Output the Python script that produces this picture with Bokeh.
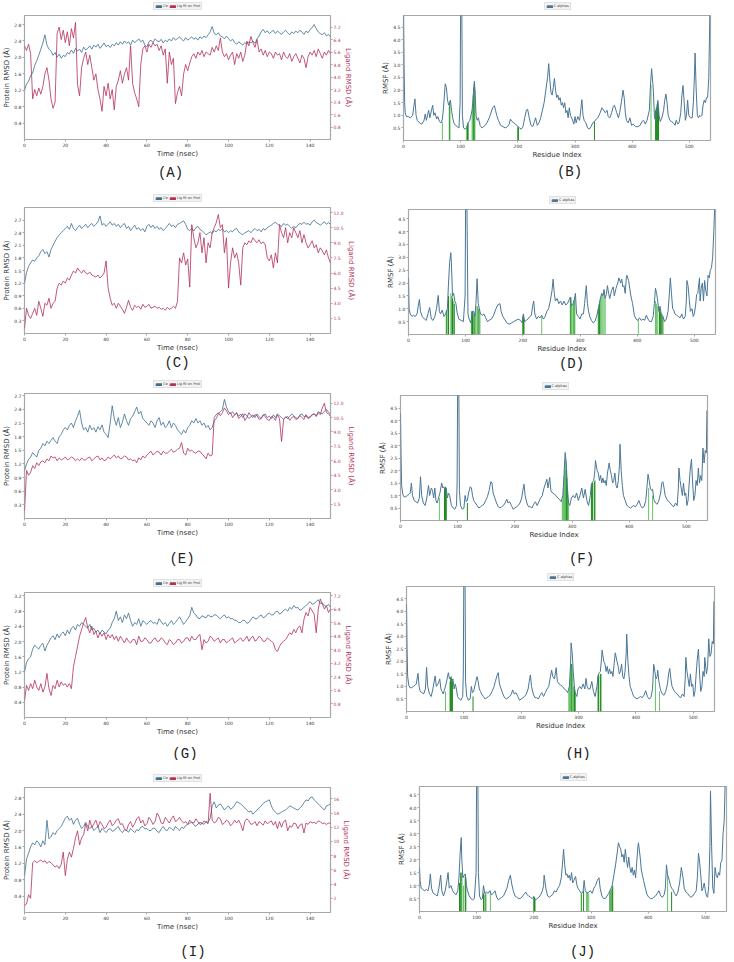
from bokeh.plotting import figure
from bokeh.models import Range1d, LinearAxis, Legend, LegendItem, Label, FixedTicker, PrintfTickFormatter
from bokeh.layouts import column, row
from bokeh.embed import file_html
from bokeh.resources import INLINE

# ---------------- data ----------------
time_ns = list(range(151))
rmsd_xticks = [0, 20, 40, 60, 80, 100, 120, 140]
rmsf_xticks = [0, 100, 200, 300, 400, 500]
rmsf_yticks = [0.5, 1.0, 1.5, 2.0, 2.5, 3.0, 3.5, 4.0, 4.5]

# Panel A
a_ca = [1.20, 1.35, 1.42, 1.55, 1.62, 1.80, 1.92, 2.05, 2.20, 2.35, 2.55,
        2.30, 2.20, 2.15, 2.05, 2.12, 2.00, 2.08, 1.98, 2.05, 2.02,
        2.12, 2.08, 2.18, 2.10, 2.22, 2.15, 2.20, 2.12, 2.25, 2.18,
        2.22, 2.28, 2.20, 2.30, 2.25, 2.32, 2.22, 2.28, 2.35, 2.26,
        2.30, 2.24, 2.32, 2.28, 2.36, 2.30, 2.38, 2.32, 2.40, 2.34,
        2.38, 2.30, 2.42, 2.36, 2.40, 2.45, 2.38, 2.42, 2.30, 2.25,
        2.38, 2.42, 2.36, 2.45, 2.40, 2.38, 2.44, 2.35, 2.42, 2.38,
        2.45, 2.40, 2.48, 2.42, 2.46, 2.50, 2.44, 2.40, 2.48, 2.42,
        2.46, 2.50, 2.44, 2.48, 2.42, 2.50, 2.46, 2.52, 2.48, 2.55,
        2.62, 2.75, 2.58, 2.55, 2.60, 2.52, 2.50, 2.45, 2.52, 2.46,
        2.40, 2.44, 2.36, 2.32, 2.38, 2.34, 2.30, 2.36, 2.32, 2.38,
        2.35, 2.40, 2.34, 2.45, 2.52, 2.62, 2.68, 2.60, 2.65, 2.58,
        2.62, 2.66, 2.58, 2.64, 2.60, 2.56, 2.62, 2.66, 2.60, 2.55,
        2.62, 2.58, 2.64, 2.60, 2.66, 2.62, 2.56, 2.64, 2.60, 2.68,
        2.72, 2.80, 2.70, 2.62, 2.58, 2.55, 2.60, 2.52, 2.56, 2.50]
a_lig = [6.0, 5.7, 6.1, 5.5, 2.6, 3.2, 2.8, 3.3, 2.9, 3.4, 4.2,
         4.6, 3.8, 2.6, 2.0, 2.4, 6.8, 7.2, 6.4, 7.0, 6.2,
         6.9, 6.0, 7.1, 6.5, 7.5, 3.5, 2.8, 4.6, 5.2, 5.6,
         4.8, 5.4, 4.6, 3.8, 4.2, 3.2, 2.6, 1.8, 3.4, 2.8,
         3.6, 2.6, 3.2, 1.9, 3.4, 3.8, 4.4, 3.6, 4.2, 4.6,
         3.8, 6.0, 3.6, 3.0, 2.6, 2.1, 4.8, 5.8, 6.0, 5.6,
         6.1, 5.9, 6.2, 6.0, 6.1, 5.7, 6.0, 5.4, 5.8, 3.6,
         5.6, 4.8, 5.2, 2.3, 3.0, 3.4, 2.8, 4.2, 4.8, 4.4,
         4.9, 5.3, 5.5, 5.2, 5.6, 5.4, 5.7, 5.3, 5.6, 5.5,
         5.4, 5.9, 5.6, 6.0, 5.7, 6.5, 5.6, 5.3, 5.5, 5.1,
         5.4, 5.6, 4.8, 5.5, 5.2, 5.6, 5.0, 5.4, 6.3, 6.0,
         6.6, 6.2, 5.9, 6.4, 5.6, 5.8, 5.4, 5.7, 5.3, 5.6,
         5.5, 5.2, 5.6, 5.4, 5.5, 5.1, 5.6, 5.3, 5.2, 5.5,
         5.0, 5.3, 5.5, 5.2, 4.9, 5.4, 5.2, 4.6, 5.3, 5.6,
         5.4, 5.7, 5.3, 5.8, 5.5, 5.2, 5.6, 5.4, 5.7, 5.5]
a_left_ticks = [0.4, 0.8, 1.2, 1.6, 2.0, 2.4, 2.8]
a_right_ticks = [0.8, 1.6, 2.4, 3.2, 4.0, 4.8, 5.6, 6.4, 7.2]

# Panel C
c_ca = [1.20, 1.45, 1.60, 1.68, 1.75, 1.72, 1.80, 1.85, 1.95, 2.00, 1.90,
        1.95, 1.82, 2.00, 2.10, 2.20, 2.28, 2.35, 2.40, 2.45, 2.50,
        2.55, 2.48, 2.62, 2.50, 2.45, 2.52, 2.58, 2.50, 2.55, 2.60,
        2.52, 2.58, 2.62, 2.55, 2.60, 2.66, 2.80, 2.58, 2.62, 2.55,
        2.60, 2.66, 2.58, 2.62, 2.55, 2.60, 2.52, 2.58, 2.62, 2.50,
        2.55, 2.45, 2.52, 2.58, 2.48, 2.52, 2.45, 2.50, 2.42, 2.55,
        2.60, 2.52, 2.58, 2.50, 2.55, 2.48, 2.52, 2.45, 2.50, 2.56,
        2.62, 2.55, 2.58, 2.52, 2.60, 2.62, 2.65, 2.68, 2.60, 2.48,
        2.45, 2.50, 2.44, 2.52, 2.55, 2.48, 2.45, 2.40, 2.35, 2.38,
        2.42, 2.38, 2.45, 2.42, 2.48, 2.45, 2.50, 2.42, 2.45, 2.40,
        2.45, 2.42, 2.48, 2.50, 2.42, 2.38, 2.35, 2.40, 2.42, 2.45,
        2.40, 2.46, 2.50, 2.45, 2.48, 2.42, 2.50, 2.46, 2.52, 2.55,
        2.58, 2.62, 2.65, 2.60, 2.58, 2.55, 2.62, 2.58, 2.60, 2.55,
        2.50, 2.55, 2.52, 2.58, 2.62, 2.60, 2.65, 2.60, 2.62, 2.58,
        2.66, 2.70, 2.64, 2.62, 2.58, 2.62, 2.66, 2.60, 2.64, 2.60]
c_lig = [0.5, 2.5, 1.8, 1.5, 2.0, 2.5, 1.8, 3.2, 2.5, 1.7, 3.0,
         2.8, 3.5, 2.5, 3.0, 3.2, 4.5, 5.0, 4.8, 5.2, 5.0,
         5.5, 5.3, 5.8, 6.2, 6.0, 6.5, 6.2, 6.0, 6.3, 6.0,
         5.9, 6.1, 5.8, 5.7, 5.6, 5.8, 5.5, 5.7, 6.0, 7.2,
         4.5, 3.5, 2.8, 3.0, 2.5, 3.0, 2.7, 2.4, 2.0, 2.6,
         3.3, 2.6, 2.3, 2.8, 2.6, 2.7, 2.4, 2.9, 2.6, 2.7,
         2.9, 2.5, 2.6, 2.7, 2.5, 2.6, 2.4, 2.5, 2.3, 2.6,
         2.4, 2.5, 2.7, 2.5, 3.2, 7.5, 7.0, 8.0, 6.8, 7.4,
         4.6, 10.8, 9.5, 8.5, 9.0, 10.0, 8.0, 9.5, 7.0, 9.0,
         8.5, 10.0, 10.5, 11.0, 11.8, 10.5, 10.8, 8.0, 9.5, 4.5,
         7.0, 8.5, 7.5, 8.0, 7.0, 4.8, 8.5, 9.0, 8.8, 9.2,
         9.0, 9.5, 9.2, 9.0, 9.3, 8.9, 9.1, 8.8, 7.5, 7.2,
         7.8, 6.5, 8.0, 7.0, 10.8, 10.0, 9.5, 10.5, 9.0, 10.0,
         9.5, 10.5, 10.0, 9.5, 10.2, 9.0, 9.8, 9.0, 8.5, 8.8,
         9.2, 8.5, 8.8, 8.0, 8.5, 8.2, 7.8, 8.3, 7.5, 7.0]
c_left_ticks = [0.3, 0.6, 0.9, 1.2, 1.5, 1.8, 2.1, 2.4, 2.7]
c_right_ticks = [1.5, 3.0, 4.5, 6.0, 7.5, 9.0, 10.5, 12.0]

# Panel E
e_ca = [1.05, 1.20, 1.30, 1.35, 1.45, 1.40, 1.35, 1.50, 1.55, 1.65, 1.60,
        1.70, 1.65, 1.72, 1.78, 1.70, 1.65, 1.80, 1.85, 1.95, 2.00,
        1.95, 2.05, 2.10, 2.00, 2.15, 2.25, 2.38, 2.10, 1.95, 2.00,
        1.90, 2.05, 1.95, 2.00, 1.90, 2.02, 1.95, 2.06, 1.90, 1.85,
        1.78, 2.10, 2.48, 2.20, 2.05, 2.22, 2.00, 2.12, 2.30, 2.15,
        2.05, 2.20, 2.25, 2.35, 2.45, 2.30, 2.36, 2.20, 2.15, 2.10,
        2.05, 2.15, 2.10, 2.00, 2.15, 2.22, 2.05, 2.12, 2.00, 2.05,
        2.15, 2.00, 2.10, 2.05, 1.95, 1.90, 1.85, 1.95, 1.88, 2.00,
        2.05, 2.15, 2.10, 2.20, 2.10, 2.15, 2.05, 2.10, 2.00, 2.05,
        1.95, 2.00, 2.15, 2.20, 2.30, 2.35, 2.40, 2.62, 2.45, 2.35,
        2.30, 2.35, 2.28, 2.32, 2.25, 2.30, 2.22, 2.30, 2.26, 2.20,
        2.24, 2.28, 2.22, 2.30, 2.24, 2.20, 2.26, 2.30, 2.22, 2.25,
        2.20, 2.28, 2.22, 2.30, 2.26, 2.22, 2.18, 2.24, 2.20, 2.25,
        2.30, 2.26, 2.22, 2.20, 2.28, 2.30, 2.24, 2.26, 2.20, 2.22,
        2.28, 2.30, 2.26, 2.35, 2.32, 2.30, 2.36, 2.40, 2.34, 2.30]
e_lig = [0.8, 5.0, 4.5, 4.8, 5.5, 5.2, 5.8, 5.5, 5.9, 6.0, 5.8,
         6.2, 6.0, 6.5, 6.3, 6.4, 6.0, 6.3, 6.1, 6.2, 6.4,
         6.1, 6.2, 6.4, 6.3, 6.0, 6.2, 6.0, 6.3, 6.1, 6.1,
         6.3, 6.4, 6.0, 6.2, 6.4, 6.5, 6.1, 6.3, 6.0, 6.1,
         6.4, 6.2, 6.4, 6.6, 6.3, 6.5, 6.2, 6.3, 6.5, 6.4,
         6.1, 6.2, 6.0, 6.1, 5.8, 6.3, 6.1, 6.5, 6.3, 6.6,
         6.8, 7.0, 6.6, 6.8, 7.0, 6.9, 6.6, 7.0, 6.8, 6.8,
         7.0, 7.2, 6.9, 7.0, 7.2, 7.3, 7.9, 6.8, 6.6, 7.3,
         7.0, 7.1, 6.9, 6.8, 7.0, 7.0, 6.7, 6.5, 6.2, 6.8,
         6.5, 6.6, 10.5, 10.8, 11.0, 10.7, 11.0, 11.5, 11.2, 10.8,
         11.0, 10.5, 10.8, 11.0, 10.4, 10.6, 10.9, 10.2, 10.5, 11.0,
         10.7, 10.5, 10.8, 10.7, 10.3, 10.4, 10.8, 10.6, 10.3, 10.2,
         10.6, 10.5, 10.2, 10.8, 10.4, 8.0, 10.3, 10.5, 10.6, 10.2,
         10.5, 10.6, 10.3, 10.4, 10.7, 10.5, 10.3, 10.8, 10.5, 10.6,
         10.8, 10.9, 10.6, 11.0, 10.8, 11.5, 12.0, 11.0, 10.9, 10.6]
e_left_ticks = [0.3, 0.6, 0.9, 1.2, 1.5, 1.8, 2.1, 2.4, 2.7]
e_right_ticks = [1.5, 3.0, 4.5, 6.0, 7.5, 9.0, 10.5, 12.0]

# Panel G
g_ca = [1.20, 1.45, 1.55, 1.60, 1.80, 1.90, 1.85, 1.80, 1.90, 1.95, 1.75,
        1.90, 2.00, 2.10, 2.15, 2.05, 2.20, 2.10, 2.20, 2.25, 2.15,
        2.30, 2.20, 2.35, 2.40, 2.30, 2.45, 2.40, 2.50, 2.45, 2.40,
        2.35, 2.45, 2.30, 2.35, 2.25, 2.30, 2.20, 2.30, 2.25, 2.20,
        2.30, 2.35, 2.50, 2.60, 2.80, 2.55, 2.65, 2.50, 2.70, 2.60,
        2.75, 2.55, 2.40, 2.50, 2.45, 2.60, 2.40, 2.55, 2.50, 2.45,
        2.52, 2.55, 2.48, 2.50, 2.45, 2.60, 2.52, 2.45, 2.50, 2.40,
        2.48, 2.55, 2.45, 2.50, 2.58, 2.65, 2.55, 2.45, 2.52, 2.60,
        2.68, 2.90, 2.75, 2.70, 2.62, 2.60, 2.68, 2.65, 2.62, 2.70,
        2.66, 2.65, 2.70, 2.70, 2.64, 2.60, 2.66, 2.70, 2.62, 2.65,
        2.60, 2.60, 2.56, 2.55, 2.50, 2.50, 2.56, 2.55, 2.48, 2.50,
        2.58, 2.65, 2.60, 2.60, 2.66, 2.70, 2.62, 2.65, 2.72, 2.75,
        2.70, 2.70, 2.78, 2.80, 2.72, 2.75, 2.82, 2.85, 2.80, 2.90,
        2.85, 2.95, 2.88, 2.90, 2.82, 2.85, 2.90, 2.95, 3.00, 3.05,
        2.98, 3.00, 3.05, 3.10, 3.00, 3.02, 2.95, 2.92, 2.98, 2.90]
g_lig = [1.0, 1.9, 1.6, 2.0, 1.7, 2.2, 1.8, 1.6, 2.0, 1.5, 1.8,
         2.6, 1.7, 1.3, 1.9, 1.7, 2.2, 1.8, 2.1, 1.9, 2.0,
         1.8, 2.0, 1.7, 3.0, 3.6, 4.2, 4.8, 5.2, 5.6, 5.9,
         5.3, 5.0, 5.4, 4.9, 5.1, 4.7, 5.0, 4.8, 5.0, 4.6,
         4.9, 4.7, 4.9, 4.6, 4.8, 4.5, 4.8, 4.6, 4.4, 4.7,
         4.5, 4.4, 4.6, 4.6, 4.3, 4.8, 4.5, 4.5, 4.7, 4.6,
         4.4, 4.4, 4.6, 4.7, 4.5, 4.5, 4.7, 4.6, 4.4, 4.3,
         4.6, 4.5, 4.3, 4.4, 4.6, 4.6, 4.4, 4.5, 4.7, 4.7,
         4.5, 4.8, 4.6, 4.6, 4.8, 4.9, 4.0, 4.6, 4.4, 4.5,
         4.8, 4.7, 4.5, 4.6, 4.7, 4.4, 4.6, 4.6, 4.4, 4.5,
         4.6, 4.7, 4.4, 4.5, 4.6, 4.7, 4.5, 4.6, 4.8, 4.5,
         4.7, 4.8, 4.5, 4.6, 4.8, 4.7, 4.5, 4.5, 4.7, 4.6,
         4.5, 4.4, 4.0, 3.9, 4.2, 4.4, 4.5, 4.6, 4.8, 5.0,
         4.9, 5.2, 5.0, 5.3, 5.4, 5.0, 5.8, 6.2, 6.0, 6.5,
         6.3, 6.1, 5.0, 6.4, 7.0, 6.7, 6.4, 6.6, 6.2, 6.4]
g_left_ticks = [0.4, 0.8, 1.2, 1.6, 2.0, 2.4, 2.8, 3.2]
g_right_ticks = [0.8, 1.6, 2.4, 3.2, 4.0, 4.8, 5.6, 6.4, 7.2]

# Panel I
i_ca = [0.90, 1.30, 1.45, 1.60, 1.70, 1.65, 1.75, 1.70, 1.60, 1.75, 1.65,
        2.25, 1.80, 1.85, 1.95, 1.90, 2.00, 2.05, 2.10, 2.20, 2.30,
        2.35, 2.25, 2.30, 2.15, 2.25, 2.30, 2.15, 2.05, 2.10, 2.20,
        2.10, 2.05, 2.10, 2.00, 2.05, 2.10, 1.95, 2.05, 2.00, 1.95,
        2.02, 2.05, 1.98, 2.00, 2.06, 2.10, 2.00, 1.95, 2.02, 2.00,
        1.96, 2.05, 2.00, 1.95, 2.02, 2.00, 2.08, 2.10, 2.04, 2.05,
        2.00, 2.00, 2.06, 2.05, 1.98, 1.95, 2.04, 2.10, 2.02, 2.00,
        2.08, 2.05, 2.00, 2.10, 2.04, 2.00, 2.08, 2.05, 2.12, 2.15,
        2.18, 2.20, 2.14, 2.10, 2.16, 2.20, 2.18, 2.15, 2.22, 2.20,
        2.30, 2.60, 2.70, 2.55, 2.62, 2.65, 2.58, 2.50, 2.56, 2.60,
        2.52, 2.55, 2.62, 2.70, 2.68, 2.65, 2.60, 2.55, 2.50, 2.45,
        2.48, 2.40, 2.45, 2.50, 2.55, 2.60, 2.66, 2.70, 2.72, 2.75,
        2.60, 2.50, 2.45, 2.40, 2.42, 2.45, 2.48, 2.50, 2.55, 2.60,
        2.58, 2.55, 2.52, 2.50, 2.55, 2.60, 2.68, 2.75, 2.72, 2.80,
        2.82, 2.75, 2.70, 2.65, 2.60, 2.55, 2.50, 2.60, 2.62, 2.65]
i_lig = [1.0, 1.2, 2.5, 2.0, 7.0, 7.3, 7.0, 7.2, 7.4, 7.1, 7.3,
         6.9, 7.2, 7.0, 6.7, 6.4, 6.6, 6.2, 6.8, 8.5, 5.2,
         7.5, 8.5, 7.8, 9.0, 10.5, 11.5, 9.5, 10.5, 11.0, 12.5,
         11.5, 13.0, 12.0, 12.5, 13.0, 12.0, 12.8, 12.4, 11.8, 12.0,
         12.6, 13.0, 12.2, 12.5, 13.0, 13.2, 12.4, 12.5, 11.8, 11.5,
         12.4, 12.8, 12.0, 12.5, 13.2, 13.5, 12.6, 13.0, 12.2, 12.5,
         13.4, 13.0, 12.4, 12.8, 14.0, 13.5, 12.6, 12.5, 13.4, 13.0,
         12.6, 13.2, 13.6, 12.8, 13.0, 13.4, 12.9, 12.6, 12.8, 12.4,
         13.0, 12.7, 12.6, 13.2, 12.8, 12.4, 12.5, 12.9, 12.7, 12.5,
         16.8, 13.0, 12.6, 12.8, 13.4, 13.2, 12.4, 12.6, 13.0, 12.8,
         12.2, 12.5, 13.0, 12.6, 13.0, 12.4, 11.5, 12.8, 13.2, 12.9,
         12.4, 12.5, 12.8, 12.2, 12.8, 12.6, 12.3, 12.9, 12.5, 12.7,
         12.9, 12.3, 12.8, 11.8, 12.8, 12.0, 12.8, 13.0, 11.5, 12.2,
         12.0, 12.6, 12.5, 11.8, 12.3, 12.5, 11.2, 12.6, 12.4, 12.8,
         12.6, 12.7, 12.5, 12.9, 12.8, 12.5, 12.6, 12.4, 12.6, 12.5]
i_left_ticks = [0.4, 0.8, 1.2, 1.6, 2.0, 2.4, 2.8]
i_right_ticks = [2, 4, 6, 8, 10, 12, 14, 16]

# RMSF profiles: (residue index, RMSF)
b_profile = [(0,5.2),(1,3.0),(2,1.5),(3,1.1),(5,0.95),(8,0.95),(12,0.9),(16,1.0),(18,1.35),(20,1.65),(22,1.0),(24,0.8),(28,0.7),(32,0.65),(36,0.8),(38,1.05),(40,0.8),(44,1.2),(46,0.9),(51,1.4),(53,1.0),(55,1.1),(58,0.85),(60,0.95),(63,0.75),(66,0.7),(68,0.85),(70,1.3),(73,2.25),(75,2.1),(77,1.6),(79,1.4),(82,1.6),(84,1.2),(86,0.9),(88,0.7),(91,0.6),(94,0.55),(97,0.5),(99,1.5),(100,5.5),(102,5.5),(103,1.0),(105,0.5),(108,0.45),(111,0.5),(113,0.7),(116,0.8),(118,1.0),(120,1.2),(122,1.8),(124,2.35),(125,2.0),(127,1.0),(129,0.8),(131,0.9),(134,0.6),(137,0.5),(140,0.55),(143,0.6),(146,0.7),(150,0.9),(153,1.1),(156,1.3),(159,1.38),(161,1.2),(163,1.0),(166,0.8),(170,0.6),(174,0.55),(178,0.5),(182,0.55),(185,0.65),(187,0.85),(190,0.75),(193,0.7),(196,0.65),(200,0.55),(203,0.5),(206,0.45),(209,0.55),(212,0.9),(215,1.2),(217,1.25),(220,0.9),(223,0.6),(226,0.55),(229,0.75),(231,0.9),(234,0.6),(237,0.7),(240,0.9),(243,1.2),(246,1.5),(249,2.0),(252,2.5),(254,3.05),(256,2.4),(258,1.9),(260,1.8),(262,2.1),(264,2.46),(266,2.0),(268,1.7),(270,1.8),(272,1.6),(274,1.7),(276,1.4),(278,1.5),(280,1.3),(282,1.5),(284,1.1),(286,1.2),(288,0.9),(290,1.3),(292,1.0),(295,0.85),(298,0.65),(300,0.95),(302,0.7),(305,0.95),(308,0.8),(310,1.2),(312,1.62),(314,1.0),(316,0.8),(319,0.7),(322,0.5),(325,0.45),(328,0.55),(331,0.7),(334,0.75),(337,0.85),(340,0.9),(344,1.1),(347,1.3),(350,1.2),(353,1.1),(356,1.2),(358,0.95),(361,0.9),(364,1.1),(367,1.35),(369,1.4),(373,1.1),(376,0.9),(378,1.1),(381,1.5),(384,2.0),(386,1.7),(388,1.1),(390,0.8),(393,0.7),(396,0.9),(399,0.6),(402,0.65),(406,0.55),(410,0.55),(414,0.6),(417,0.75),(420,0.8),(423,0.65),(426,0.8),(430,1.2),(432,2.2),(434,2.85),(437,2.0),(439,0.9),(441,0.8),(443,1.3),(445,1.59),(447,1.0),(449,0.75),(452,0.9),(455,1.2),(457,1.6),(459,1.84),(461,1.5),(463,1.0),(466,0.8),(469,0.75),(472,0.7),(475,0.6),(477,0.8),(480,0.65),(482,0.7),(485,1.1),(487,1.8),(489,2.18),(491,1.5),(493,0.8),(495,1.0),(497,1.6),(499,1.0),(502,0.9),(505,0.9),(507,1.5),(509,2.6),(510,3.47),(512,2.0),(514,1.0),(516,0.9),(518,1.0),(520,0.95),(522,1.0),(524,1.4),(526,1.6),(528,1.5),(530,1.7),(532,1.7),(534,2.5),(536,5.2)]
b_contacts = [(68,0.72,0),(80,1.35,0),(81,1.5,1),(110,0.6,0),(112,0.68,1),(113,0.7,1),(120,1.2,0),(121,1.4,0),(122,1.8,0),(123,2.1,1),(124,2.3,1),(125,2.0,0),(200,0.55,1),(201,0.5,1),(334,0.75,1),(433,2.2,0),(441,1.2,1),(442,1.3,1),(443,1.3,1),(444,1.45,1),(445,1.5,1),(446,1.3,1)]

d_profile = [(0,2.2),(1,1.0),(3,0.8),(6,0.7),(9,0.75),(12,0.7),(15,0.8),(17,1.1),(19,1.36),(21,0.9),(24,0.7),(28,0.6),(31,0.55),(34,0.8),(37,1.05),(40,0.6),(43,0.55),(46,0.7),(49,1.0),(52,1.52),(54,0.9),(56,0.8),(59,0.95),(62,0.7),(65,0.8),(68,1.0),(70,2.0),(72,2.8),(74,3.18),(75,2.8),(77,1.5),(79,1.6),(81,1.3),(83,1.2),(85,0.85),(88,0.6),(92,0.55),(96,0.5),(99,1.5),(100,5.5),(102,5.5),(104,0.8),(106,0.6),(109,0.45),(112,0.9),(114,0.9),(116,0.7),(118,1.2),(120,2.17),(122,1.2),(124,1.0),(126,0.8),(129,0.75),(132,0.8),(135,0.65),(138,0.5),(141,0.55),(145,0.6),(149,0.75),(153,1.0),(156,1.15),(160,1.2),(162,0.9),(165,0.7),(168,0.6),(172,0.45),(176,0.4),(180,0.45),(184,0.5),(188,0.55),(192,0.6),(196,0.55),(199,0.45),(201,0.8),(203,0.5),(206,0.55),(209,0.6),(212,0.7),(215,0.75),(217,1.1),(219,1.3),(221,0.8),(224,0.6),(227,0.7),(230,0.65),(233,0.75),(236,0.6),(239,0.7),(242,0.9),(245,1.0),(248,1.3),(251,1.7),(253,2.15),(255,1.6),(257,1.3),(260,1.4),(263,1.2),(266,1.3),(269,1.15),(272,1.3),(275,1.15),(278,1.2),(281,1.35),(283,1.45),(285,1.1),(288,1.2),(290,1.35),(292,1.6),(294,0.8),(297,0.7),(300,0.6),(303,0.8),(306,0.8),(308,1.2),(311,1.9),(313,1.2),(315,0.9),(317,0.7),(320,0.55),(323,0.45),(326,0.5),(329,0.7),(332,1.0),(335,1.35),(338,1.6),(340,1.5),(342,1.75),(344,1.4),(346,1.55),(348,1.9),(350,1.6),(352,1.4),(355,1.7),(358,1.85),(360,1.5),(363,1.8),(366,2.0),(368,2.2),(371,2.0),(373,2.15),(375,1.85),(377,1.9),(379,1.6),(381,2.2),(382,2.3),(385,2.1),(387,1.8),(389,1.5),(392,1.2),(395,0.75),(398,0.6),(401,0.55),(404,0.65),(407,0.55),(410,0.6),(413,0.55),(416,0.75),(419,0.6),(422,0.5),(425,0.5),(428,0.7),(430,1.2),(432,1.8),(434,1.6),(436,1.3),(438,0.9),(440,1.1),(442,0.8),(445,0.7),(448,0.5),(451,0.6),(454,0.9),(456,1.5),(458,2.2),(460,1.6),(462,1.0),(464,0.95),(466,0.8),(469,0.75),(472,0.7),(475,0.65),(478,0.8),(481,0.6),(484,0.7),(486,1.3),(487,2.1),(489,1.9),(491,1.4),(493,0.9),(496,1.0),(498,0.7),(500,0.8),(502,1.1),(504,1.55),(506,1.6),(509,2.2),(510,1.3),(512,1.8),(514,2.0),(516,1.3),(518,2.1),(520,1.7),(522,1.5),(524,2.3),(526,2.2),(528,2.5),(530,2.6),(532,3.0),(534,4.0),(536,5.2)]
d_contacts = [(66,0.9,0),(67,0.95,1),(69,1.0,0),(70,1.5,1),(74,1.6,0),(76,1.5,1),(77,1.4,1),(79,1.3,0),(80,1.2,1),(110,0.9,0),(111,0.9,1),(112,0.9,1),(114,0.85,0),(115,0.75,1),(117,0.9,0),(120,1.1,1),(121,1.1,0),(123,1.0,1),(124,0.9,0),(125,0.8,0),(200,0.7,1),(201,0.8,1),(202,0.6,1),(233,0.7,0),(283,1.4,0),(284,1.45,1),(285,1.1,0),(286,1.1,0),(288,1.2,0),(289,1.3,0),(290,1.35,1),(291,1.45,0),(332,1.0,1),(334,1.2,1),(336,1.4,0),(338,1.55,0),(340,1.5,0),(342,1.7,0),(344,1.4,0),(402,0.6,0),(432,1.3,0),(434,1.2,0),(436,1.1,0),(439,1.0,1),(441,0.9,1),(443,0.8,1),(445,0.7,1)]

f_profile = [(0,4.3),(1,2.5),(2,1.4),(4,1.05),(6,0.95),(9,0.95),(12,1.0),(15,1.05),(17,1.1),(19,1.5),(21,1.0),(24,0.8),(27,0.75),(30,0.7),(33,0.9),(35,1.75),(37,1.0),(40,0.7),(43,0.6),(46,0.9),(49,1.4),(51,1.0),(54,1.3),(56,1.2),(58,0.9),(60,1.3),(62,0.8),(64,0.7),(66,0.85),(69,1.1),(72,1.5),(74,1.3),(76,1.35),(78,1.2),(80,1.3),(82,0.9),(84,1.1),(86,1.0),(89,0.6),(92,0.5),(95,0.45),(98,0.6),(99,1.5),(100,5.5),(102,5.5),(103,1.2),(105,0.6),(108,0.45),(111,0.5),(113,1.0),(115,0.75),(117,0.8),(119,1.1),(122,1.35),(124,1.3),(126,1.0),(128,0.8),(131,0.7),(134,0.6),(137,0.5),(140,0.55),(143,0.6),(146,0.65),(149,0.8),(152,0.95),(155,1.2),(158,1.55),(160,1.5),(162,1.1),(165,0.9),(168,0.7),(171,0.55),(174,0.5),(177,0.55),(180,0.6),(183,0.7),(186,0.85),(188,0.7),(191,0.75),(194,0.6),(197,0.45),(200,0.5),(203,0.55),(206,0.6),(209,0.7),(212,0.9),(214,1.2),(216,1.45),(218,1.0),(221,0.7),(224,0.55),(227,0.55),(230,0.5),(233,0.65),(236,0.75),(239,0.6),(242,0.75),(245,0.9),(248,1.0),(251,1.3),(254,1.5),(256,1.65),(258,1.3),(261,1.72),(263,1.2),(266,1.1),(269,1.05),(272,1.0),(275,0.9),(278,0.85),(281,0.75),(284,1.0),(286,1.8),(288,2.72),(290,2.3),(292,1.3),(294,0.7),(296,0.6),(299,0.9),(302,1.0),(305,0.9),(308,1.1),(311,0.8),(314,1.0),(317,1.3),(320,0.9),(323,1.25),(326,0.8),(329,0.6),(332,1.0),(334,1.45),(336,1.55),(338,1.6),(340,2.0),(341,2.4),(344,2.0),(346,1.9),(348,1.6),(350,1.8),(352,1.5),(354,1.7),(356,1.5),(358,1.6),(360,1.4),(362,1.9),(365,2.3),(367,2.0),(369,1.8),(371,1.5),(373,1.6),(375,1.9),(377,1.4),(379,1.3),(381,1.6),(383,2.2),(384,3.05),(386,2.0),(388,1.4),(390,1.0),(393,0.8),(396,0.6),(399,0.55),(402,0.5),(405,0.55),(408,0.6),(411,0.55),(414,0.65),(417,0.8),(420,0.6),(423,0.5),(426,0.55),(429,0.8),(431,1.3),(433,1.85),(435,1.6),(437,1.3),(439,1.2),(441,1.25),(443,0.85),(446,0.7),(449,0.65),(452,0.8),(455,1.1),(457,1.5),(459,1.55),(461,1.3),(463,1.0),(466,0.85),(469,0.75),(472,0.7),(475,0.6),(478,0.55),(481,0.7),(484,0.6),(486,1.3),(487,2.1),(489,1.6),(491,1.3),(493,1.0),(495,1.5),(497,1.0),(499,1.1),(501,0.6),(503,0.8),(505,1.5),(507,2.1),(509,2.45),(511,1.5),(513,0.8),(515,1.0),(517,1.6),(519,1.4),(521,2.1),(523,1.5),(525,1.8),(527,1.6),(529,2.9),(531,2.3),(533,2.8),(535,2.7),(536,4.4)]
f_contacts = [(68,0.9,0),(77,1.3,1),(78,1.25,1),(79,1.35,1),(80,1.2,1),(117,0.7,1),(283,0.8,0),(284,1.0,0),(285,1.3,0),(286,1.8,0),(287,2.2,0),(288,2.5,0),(289,2.4,0),(290,2.0,1),(291,1.7,1),(292,1.3,1),(293,0.9,0),(294,0.7,0),(334,1.45,1),(336,1.5,1),(339,1.55,1),(340,1.6,1),(434,1.3,0),(441,1.0,0)]

h_profile = [(0,4.3),(1,2.5),(2,1.4),(4,1.05),(6,0.95),(9,0.95),(12,1.0),(15,1.05),(17,1.1),(20,1.52),(22,1.0),(24,0.8),(27,0.75),(30,0.7),(33,0.9),(35,1.76),(37,1.0),(40,0.7),(43,0.6),(46,0.9),(50,1.42),(52,1.0),(55,1.1),(58,1.3),(60,0.9),(62,0.8),(64,0.7),(66,0.85),(69,1.1),(73,1.55),(75,1.3),(77,1.35),(79,1.2),(81,1.3),(83,0.9),(85,1.1),(87,0.9),(89,0.6),(92,0.5),(95,0.45),(98,0.6),(99,1.5),(100,5.5),(102,5.5),(103,1.2),(105,0.6),(108,0.45),(111,0.5),(113,1.0),(115,0.75),(117,0.8),(120,1.1),(123,1.39),(125,1.2),(127,0.9),(129,0.8),(131,0.7),(134,0.6),(137,0.5),(140,0.55),(143,0.6),(146,0.65),(149,0.8),(152,0.95),(155,1.2),(158,1.45),(160,1.55),(162,1.1),(165,0.9),(168,0.7),(171,0.55),(174,0.5),(177,0.55),(180,0.6),(183,0.7),(185,0.86),(188,0.7),(191,0.75),(194,0.6),(197,0.45),(200,0.5),(203,0.55),(206,0.6),(209,0.7),(212,0.9),(214,1.2),(216,1.46),(218,1.0),(221,0.7),(224,0.55),(227,0.55),(230,0.5),(233,0.65),(236,0.75),(239,0.6),(242,0.75),(245,0.9),(248,1.0),(251,1.4),(253,1.65),(255,1.4),(258,1.3),(261,1.75),(263,1.2),(266,1.1),(269,1.05),(272,1.0),(275,0.9),(278,0.85),(281,0.75),(284,1.0),(286,1.9),(287,2.74),(289,2.3),(291,1.5),(293,0.9),(295,0.7),(297,0.6),(299,0.9),(302,1.0),(305,0.9),(308,1.1),(311,0.9),(313,1.32),(315,1.0),(317,0.9),(320,0.9),(323,1.2),(326,0.8),(329,0.6),(332,1.0),(334,1.45),(336,1.55),(338,1.6),(340,2.1),(341,2.45),(344,2.0),(346,1.9),(348,1.6),(350,1.8),(352,1.5),(354,1.7),(356,1.5),(358,1.6),(360,1.4),(362,1.9),(364,2.34),(367,2.0),(369,1.8),(371,1.5),(373,1.6),(375,1.9),(377,1.4),(379,1.3),(381,1.6),(383,2.3),(384,3.09),(386,2.0),(388,1.4),(390,1.0),(393,0.8),(396,0.6),(399,0.55),(402,0.5),(405,0.55),(408,0.6),(411,0.55),(414,0.65),(417,0.83),(420,0.6),(423,0.5),(426,0.55),(429,0.9),(431,1.88),(433,1.6),(435,1.3),(437,1.4),(438,1.65),(440,1.2),(443,0.85),(446,0.7),(449,0.65),(452,0.8),(455,1.1),(457,1.5),(459,1.72),(461,1.3),(463,1.0),(466,0.85),(469,0.75),(472,0.7),(475,0.6),(478,0.55),(481,0.7),(484,0.6),(486,1.3),(487,2.16),(489,1.6),(491,1.3),(493,1.0),(495,1.5),(497,1.0),(499,1.1),(501,0.6),(503,0.8),(505,1.5),(507,2.1),(509,2.49),(511,1.5),(513,0.8),(515,1.0),(517,1.6),(519,1.4),(520,2.16),(523,1.5),(525,1.8),(527,2.9),(529,2.2),(531,2.3),(533,2.8),(535,2.7),(536,4.4)]
h_contacts = [(68,0.8,0),(76,1.2,1),(77,1.35,1),(78,1.4,1),(79,1.3,1),(80,1.2,1),(116,0.6,1),(283,0.8,0),(284,1.0,0),(285,1.3,0),(286,1.8,0),(287,1.9,0),(288,1.9,1),(289,1.8,0),(290,1.5,0),(292,1.0,1),(293,0.9,1),(294,0.7,1),(334,1.4,1),(335,1.45,1),(338,1.5,1),(339,1.5,1),(434,1.3,0),(441,0.8,0)]

j_profile = [(0,1.7),(1,1.2),(3,0.9),(6,0.85),(9,0.8),(12,0.85),(15,0.8),(17,1.0),(19,1.45),(21,0.9),(24,0.7),(28,0.65),(31,0.6),(34,0.9),(37,1.4),(39,0.8),(42,0.6),(45,0.8),(48,1.2),(50,1.5),(52,0.9),(55,1.0),(58,0.8),(61,0.7),(64,0.65),(67,0.8),(69,1.3),(71,2.2),(73,2.85),(74,2.0),(76,1.3),(78,1.4),(80,1.45),(82,1.0),(84,0.8),(87,0.6),(90,0.5),(93,0.45),(96,0.5),(99,1.5),(100,5.5),(102,5.5),(103,1.5),(105,0.6),(108,0.45),(110,0.5),(112,1.0),(114,0.7),(117,0.75),(120,0.7),(123,0.8),(126,0.65),(129,0.7),(132,0.8),(135,0.55),(138,0.45),(141,0.5),(144,0.55),(147,0.6),(150,0.75),(153,0.9),(156,1.2),(159,1.4),(161,1.1),(164,0.8),(167,0.6),(170,0.55),(173,0.5),(176,0.5),(179,0.55),(182,0.65),(186,0.75),(188,0.65),(191,0.6),(194,0.55),(197,0.5),(200,0.55),(203,0.45),(206,0.5),(209,0.55),(212,0.65),(215,0.8),(217,1.0),(218,1.4),(221,0.9),(224,0.6),(227,0.55),(230,0.6),(233,0.65),(236,0.8),(239,0.75),(242,0.9),(245,1.0),(248,1.3),(250,1.8),(252,2.4),(254,1.8),(256,1.4),(258,1.45),(260,1.3),(262,1.4),(264,1.2),(266,1.5),(268,1.1),(270,1.2),(273,1.35),(275,1.05),(277,0.9),(280,0.8),(283,0.7),(286,0.75),(288,1.2),(290,0.8),(293,0.7),(296,0.75),(299,0.8),(302,0.7),(305,0.9),(308,1.0),(311,1.2),(314,1.3),(316,0.9),(319,0.6),(322,0.5),(325,0.5),(328,0.6),(331,0.7),(334,0.85),(337,1.0),(340,1.4),(343,1.8),(346,2.3),(348,2.65),(350,2.5),(352,2.4),(354,2.1),(356,2.2),(358,1.9),(360,2.4),(362,2.0),(364,1.7),(366,2.1),(368,1.7),(370,1.5),(372,1.7),(374,1.4),(376,1.6),(378,1.3),(380,1.9),(382,2.5),(383,2.65),(386,2.1),(388,1.6),(390,1.4),(392,1.2),(395,0.9),(398,0.65),(401,0.55),(404,0.5),(407,0.5),(410,0.55),(413,0.6),(416,0.7),(419,0.8),(422,0.6),(425,0.55),(428,0.65),(430,0.9),(432,1.8),(434,1.4),(437,1.2),(439,1.0),(441,0.9),(443,0.85),(446,0.7),(449,0.6),(452,0.75),(455,1.1),(457,1.5),(458,1.7),(461,1.3),(463,0.9),(466,0.75),(469,0.7),(472,0.6),(475,0.55),(478,0.6),(481,0.7),(484,0.8),(486,1.3),(488,2.25),(490,1.9),(492,1.4),(494,0.8),(496,0.9),(498,1.1),(500,0.8),(502,0.6),(504,0.55),(506,1.0),(508,2.5),(509,4.65),(511,2.5),(513,0.9),(515,0.7),(517,1.7),(519,1.4),(521,1.3),(523,1.5),(525,1.4),(527,1.9),(529,1.95),(531,3.0),(533,3.5),(535,5.2)]
j_contacts = [(70,1.1,1),(72,1.5,1),(74,1.5,1),(77,1.0,0),(80,1.4,1),(81,1.3,1),(112,0.7,1),(114,0.65,0),(116,0.7,1),(124,0.8,0),(200,0.6,1),(201,0.55,1),(202,0.5,1),(283,0.7,1),(287,0.8,1),(292,0.7,0),(294,0.75,0),(296,0.7,0),(333,0.75,1),(335,0.85,1),(337,0.9,1),(338,1.0,1),(434,1.4,0),(441,0.75,1)]

# ---------------- style ----------------
BLUE = "#3f6f8f"
RED = "#b3325d"
RMSF_BLUE = "#4a7696"
GREEN_D = "#1a8a1a"
GREEN_L = "#66c266"
FRAME = "#a8a8a8"
TXT = "#333333"
FONT = "DejaVu Sans"
TICK_FS = "4.5px"
LAB_FS = "7px"
FIG_W = 367
BB = 20  # bottom border of each plot (axis only)


def style_axis(ax, color=TXT, fmt="%.1f"):
    ax.major_tick_out = 2
    ax.major_tick_in = 0
    ax.minor_tick_out = 0
    ax.minor_tick_in = 0
    ax.major_tick_line_color = FRAME
    ax.axis_line_color = None
    ax.major_label_text_font_size = TICK_FS
    ax.major_label_text_font = FONT
    ax.major_label_text_color = color
    ax.axis_label_text_font_size = LAB_FS
    ax.axis_label_text_font = FONT
    ax.axis_label_text_font_style = "normal"
    ax.axis_label_text_color = color
    ax.major_label_standoff = 1
    ax.axis_label_standoff = 0
    ax.formatter = PrintfTickFormatter(format=fmt)


def strip(h, bl, br):
    fw = FIG_W - bl - br
    s = figure(width=FIG_W, height=h, x_range=Range1d(0, fw), y_range=Range1d(0, h),
               output_backend="svg", toolbar_location=None,
               x_axis_type=None, y_axis_type=None,
               min_border_left=bl, min_border_right=br, min_border_top=0, min_border_bottom=0)
    s.outline_line_color = None
    s.border_fill_color = "white"
    return s


def panel(geo, entries, lw, cap, build):
    x0, y0, rh, T, Bf, bl, br, leg_cx, cap_x, cap_y = geo
    top_h = T - y0 - 2
    main_h = 2 + (Bf - T) + BB
    bot_h = rh - top_h - main_h
    fx = x0 + bl  # page x of the frame's left edge
    # legend strip
    top = strip(top_h, bl, br)
    items = []
    for lab, col in entries:
        # swatch source kept outside the visible range; only its legend icon shows
        r = top.quad(left=[-30], right=[-20], top=[-30], bottom=[-20], fill_color=col, line_color=col)
        items.append(LegendItem(label=lab, renderers=[r]))
    leg = Legend(items=items, orientation="horizontal",
                 location=(leg_cx - fx - lw / 2.0, 3),
                 label_text_font_size="3.5px", label_text_font=FONT,
                 label_text_color="#444444",
                 glyph_width=7, glyph_height=3, label_height=3, label_width=1,
                 label_standoff=1, spacing=1, padding=1, margin=0,
                 background_fill_color="#f2f2f2", border_line_color="#d0d0d0",
                 border_line_width=0.5)
    top.add_layout(leg, "center")
    # main plot
    p = figure(width=FIG_W, height=main_h, output_backend="svg", toolbar_location=None,
               min_border_left=bl, min_border_right=br, min_border_top=2, min_border_bottom=BB)
    p.grid.visible = False
    p.outline_line_color = FRAME
    p.outline_line_width = 1.2
    build(p)
    # caption strip
    bot = strip(bot_h, bl, br)
    bot.add_layout(Label(x=cap_x - fx, y=bot_h - (cap_y - (Bf + BB)), text=cap,
                         text_align="center", text_baseline="middle",
                         text_font="Liberation Mono", text_font_size="14px",
                         text_color="#222222"))
    return column(top, p, bot, spacing=0)


def rmsd_builder(ca, lig, ytop, rtop, lticks, rticks, rfmt):
    def build(p):
        p.x_range = Range1d(0, 150)
        p.y_range = Range1d(0, ytop)
        p.extra_y_ranges = {"lig": Range1d(0, rtop)}
        p.line(time_ns, ca, color=BLUE, line_width=0.9, line_alpha=0.9)
        p.line(time_ns, lig, color=RED, line_width=0.9, line_alpha=0.9, y_range_name="lig")
        p.xaxis.ticker = FixedTicker(ticks=rmsd_xticks)
        p.xaxis.axis_label = "Time (nsec)"
        style_axis(p.xaxis[0], fmt="%d")
        p.yaxis.ticker = FixedTicker(ticks=lticks)
        p.yaxis.axis_label = "Protein RMSD (Å)"
        style_axis(p.yaxis[0])
        rax = LinearAxis(y_range_name="lig", ticker=FixedTicker(ticks=rticks),
                         axis_label="Ligand RMSD (Å)")
        style_axis(rax, color=RED, fmt=rfmt)
        p.add_layout(rax, "right")
    return build


def rmsf_builder(profile, contacts, ytop):
    def build(p):
        p.x_range = Range1d(0, 537)
        p.y_range = Range1d(0, ytop)
        cr = [c[0] for c in contacts]
        ch = [c[1] for c in contacts]
        cc = [GREEN_D if c[2] else GREEN_L for c in contacts]
        p.segment(x0=cr, y0=[0] * len(cr), x1=cr, y1=ch, line_color=cc, line_width=1.0)
        p.line([r for r, v in profile], [v for r, v in profile], color=RMSF_BLUE, line_width=1.0)
        p.xaxis.ticker = FixedTicker(ticks=rmsf_xticks)
        p.xaxis.axis_label = "Residue Index"
        style_axis(p.xaxis[0], fmt="%d")
        p.yaxis.ticker = FixedTicker(ticks=rmsf_yticks)
        p.yaxis.axis_label = "RMSF (Å)"
        style_axis(p.yaxis[0])
    return build


RMSD_LEG = [("Cα", BLUE), ("Lig fit on Prot", RED)]
RMSF_LEG = [("C-alphas", RMSF_BLUE)]
RMSD_LW = 49
RMSF_LW = 25

# geometry: (fig x0, row y0, row h, frame top, frame bottom, border l, border r, legend cx, caption cx, caption cy)
pA = panel((0, 0, 190, 15, 140, 23, 37, 176.5, 169.5, 172), RMSD_LEG, RMSD_LW, "(A)",
           rmsd_builder(a_ca, a_lig, 3.02, 7.94, a_left_ticks, a_right_ticks, "%.1f"))
pB = panel((367, 0, 190, 15, 141, 36, 24, 556, 569, 171.5), RMSF_LEG, RMSF_LW, "(B)",
           rmsf_builder(b_profile, b_contacts, 4.96))
pC = panel((0, 190, 190, 207, 334, 23, 37, 176.5, 176, 362), RMSD_LEG, RMSD_LW, "(C)",
           rmsd_builder(c_ca, c_lig, 3.0, 12.5, c_left_ticks, c_right_ticks, "%.1f"))
pD = panel((367, 190, 190, 209, 335, 41, 19, 561.5, 571, 363), RMSF_LEG, RMSF_LW, "(D)",
           rmsf_builder(d_profile, d_contacts, 4.86))
pE = panel((0, 380, 190, 393, 519, 23, 37, 176.5, 181, 558), RMSD_LEG, RMSD_LW, "(E)",
           rmsd_builder(e_ca, e_lig, 2.75, 13.0, e_left_ticks, e_right_ticks, "%.1f"))
pF = panel((367, 380, 190, 395, 521, 33, 27, 554, 581, 558.5), RMSF_LEG, RMSF_LW, "(F)",
           rmsf_builder(f_profile, f_contacts, 5.0))
pG = panel((0, 570, 190, 592, 718, 23, 37, 176.5, 184, 753), RMSD_LEG, RMSD_LW, "(G)",
           rmsd_builder(g_ca, g_lig, 3.29, 7.38, g_left_ticks, g_right_ticks, "%.1f"))
pH = panel((367, 570, 190, 586, 712, 39, 20, 559.5, 577.5, 753), RMSF_LEG, RMSF_LW, "(H)",
           rmsf_builder(h_profile, h_contacts, 4.99))
pI = panel((0, 760, 200, 787, 913, 23, 37, 176.5, 192, 951), RMSD_LEG, RMSD_LW, "(I)",
           rmsd_builder(i_ca, i_lig, 3.05, 17.6, i_left_ticks, i_right_ticks, "%d"))
pJ = panel((367, 760, 200, 786, 912, 52, 8, 572, 582, 951), RMSF_LEG, RMSF_LW, "(J)",
           rmsf_builder(j_profile, j_contacts, 4.82))

layout = column(row(pA, pB, spacing=0), row(pC, pD, spacing=0), row(pE, pF, spacing=0),
                row(pG, pH, spacing=0), row(pI, pJ, spacing=0), spacing=0)

with open("out.html", "w") as fh:
    fh.write(file_html(layout, INLINE))
